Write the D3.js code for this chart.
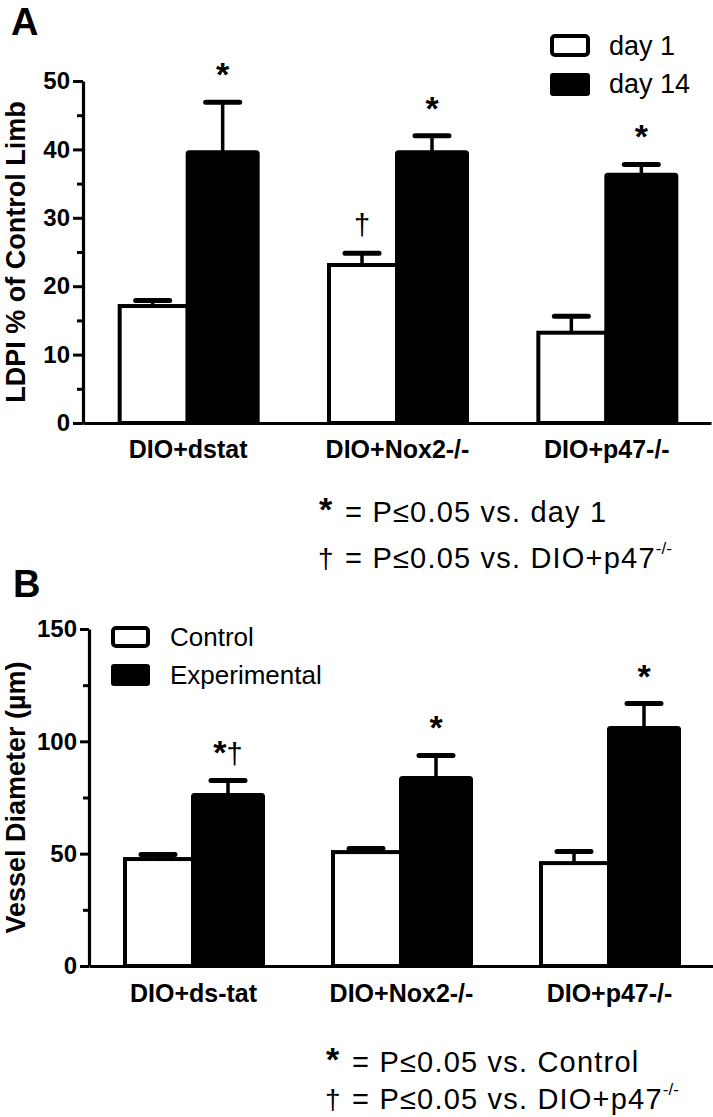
<!DOCTYPE html>
<html>
<head>
<meta charset="utf-8">
<script src="https://cdn.jsdelivr.net/npm/d3@7"></script>
<style>
  html, body { margin: 0; padding: 0; background: #fff; }
  svg { display: block; font-family: "Liberation Sans", Arial, Helvetica, sans-serif; }
</style>
</head>
<body>
<script>
// ---------------- DATA ----------------
// Panel A: LDPI % of Control Limb
const categoriesA = ["DIO+dstat", "DIO+Nox2-/-", "DIO+p47-/-"];
const seriesA = ["day 1", "day 14"];
const day1 = [17.1, 23.1, 13.2];
const day1Sem = [0.8, 1.7, 2.4];
const day14 = [39.6, 39.6, 36.3];
const day14Sem = [7.3, 2.4, 1.5];
const marksA = [["", "*"], ["†", "*"], ["", "*"]];
const ticksA = [0, 10, 20, 30, 40, 50];
const minorTicksA = [5, 15, 25, 35, 45];

// Panel B: Vessel Diameter (µm)
const categoriesB = ["DIO+ds-tat", "DIO+Nox2-/-", "DIO+p47-/-"];
const seriesB = ["Control", "Experimental"];
const control = [47.6, 50.7, 45.8];
const controlSem = [2.0, 1.6, 5.2];
const experimental = [76.1, 83.7, 105.9];
const experimentalSem = [6.5, 10.0, 10.9];
const marksB = [["", "*†"], ["", "*"], ["", "*"]];
const ticksB = [0, 50, 100, 150];
const minorTicksB = [25, 75, 125];

const footA = [["*", "= P≤0.05 vs. day 1", ""], ["†", "= P≤0.05 vs. DIO+p47", "-/-"]];
const footB = [["*", "= P≤0.05 vs. Control", ""], ["†", "= P≤0.05 vs. DIO+p47", "-/-"]];

// ---------------- DRAW ----------------
const W = 713, H = 1117;
const svg = d3.select("body").append("svg").attr("width", W).attr("height", H);

function drawPanel(o) {
  const g = svg.append("g");
  const y = d3.scaleLinear().domain(o.domain).range([o.y0, o.y1]);
  const x = d3.scalePoint().domain(o.categories).range([o.xAxis, o.xEnd]).padding(0.5);
  const sub = d3.scaleBand().domain(o.series).range([-70, 70]);

  // panel letter
  g.append("text").attr("x", o.letterX).attr("y", o.letterY)
    .attr("font-size", 38).attr("font-weight", "bold").text(o.letter);

  // y axis major
  const ya = g.append("g").attr("transform", `translate(${o.xAxis},0)`)
    .call(d3.axisLeft(y).tickValues(o.ticks).tickSize(o.tickLen).tickSizeOuter(0).tickPadding(3));
  ya.select(".domain").attr("stroke-width", 3.2);
  ya.selectAll(".tick line").attr("stroke-width", 3);
  ya.selectAll(".tick text").attr("font-size", 24).attr("font-weight", "bold")
    .attr("font-family", "Liberation Sans, Arial, sans-serif").attr("fill", "#000");
  // minor ticks
  const ym = g.append("g").attr("transform", `translate(${o.xAxis},0)`)
    .call(d3.axisLeft(y).tickValues(o.minor).tickSize(6).tickSizeOuter(0).tickFormat(""));
  ym.select(".domain").remove();
  ym.selectAll(".tick line").attr("stroke-width", 3);

  // y label
  g.append("text")
    .attr("transform", `translate(${o.ylabX},${(o.y0 + o.y1) / 2}) rotate(-90)`)
    .attr("text-anchor", "middle").attr("font-size", 27).attr("font-weight", "bold")
    .text(o.ylabel);

  // bars
  const vals = [o.v1, o.v2], sems = [o.s1, o.s2];
  o.categories.forEach((c, i) => {
    const gg = g.append("g").attr("transform", `translate(${x(c)},0)`);
    o.series.forEach((s, j) => {
      const v = vals[j][i], e = sems[j][i];
      const bx = sub(s), bw = sub.bandwidth();
      const cx = bx + bw / 2;
      gg.append("line").attr("x1", cx).attr("x2", cx)
        .attr("y1", y(v)).attr("y2", y(v + e))
        .attr("stroke", "#000").attr("stroke-width", 3.5);
      gg.append("line").attr("x1", cx - 17).attr("x2", cx + 17)
        .attr("y1", y(v + e)).attr("y2", y(v + e))
        .attr("stroke", "#000").attr("stroke-width", 5).attr("stroke-linecap", "round");
      if (j === 0) {
        gg.append("rect").attr("x", bx + 2).attr("width", bw - 2)
          .attr("y", y(v)).attr("height", y(0) - y(v))
          .attr("fill", "#fff").attr("stroke", "#000").attr("stroke-width", 4);
      } else {
        gg.append("rect").attr("x", bx).attr("width", bw)
          .attr("y", y(v)).attr("height", y(0) - y(v)).attr("rx", 1.5)
          .attr("fill", "#000").attr("stroke", "#000").attr("stroke-width", 4);
      }
      const m = o.marks[i][j];
      if (m) {
        const t = gg.append("text").attr("x", cx).attr("y", y(v + e) - 16)
          .attr("text-anchor", "middle");
        for (const ch of m) {
          if (ch === "*") t.append("tspan").attr("font-size", 34).attr("font-weight", "bold").text("*");
          else t.append("tspan").attr("font-size", 29).attr("dy", ch === m[0] ? -2 : 0).text(ch);
        }
      }
    });
  });

  // x axis
  const xa = g.append("g").attr("transform", `translate(0,${o.y0})`)
    .call(d3.axisBottom(x).tickSize(0).tickSizeOuter(0));
  xa.select(".domain").attr("stroke-width", 3.2);
  xa.selectAll(".tick text").attr("font-size", 25).attr("font-weight", "bold")
    .attr("font-family", "Liberation Sans, Arial, sans-serif").attr("fill", "#000")
    .attr("dy", null).attr("y", o.catY - o.y0);

  // legend
  o.series.forEach((s, j) => {
    const ly = o.legY[j];
    if (j === 0) {
      g.append("rect").attr("x", o.legX + 2).attr("y", ly + 2).attr("width", o.legW - 4)
        .attr("height", o.legH - 4).attr("rx", 3)
        .attr("fill", "#fff").attr("stroke", "#000").attr("stroke-width", 4);
    } else {
      g.append("rect").attr("x", o.legX).attr("y", ly).attr("width", o.legW)
        .attr("height", o.legH).attr("rx", 3).attr("fill", "#000");
    }
    g.append("text").attr("x", o.legTextX).attr("y", o.legBase[j])
      .attr("font-size", o.legFont).text(s);
  });

  // footnotes
  o.foot.forEach((f, k) => {
    const by = o.footY[k];
    if (f[0] === "*") {
      g.append("text").attr("x", o.footSymX - 1).attr("y", by - 1).attr("font-size", 34)
        .attr("font-weight", "bold").text("*");
    } else {
      g.append("text").attr("x", o.footSymX - 2).attr("y", by).attr("font-size", 28).text(f[0]);
    }
    const t = g.append("text").attr("x", o.footTextX).attr("y", by)
      .attr("font-size", 29).attr("letter-spacing", 1.2);
    t.append("tspan").text(f[1]);
    if (f[2]) t.append("tspan").attr("font-size", 17).attr("dy", -14)
      .attr("letter-spacing", 0).text(f[2]);
  });
}

drawPanel({
  letter: "A", letterX: 11, letterY: 35,
  categories: categoriesA, series: seriesA,
  v1: day1, s1: day1Sem, v2: day14, s2: day14Sem, marks: marksA,
  domain: [0, 50], y0: 423, y1: 81, xAxis: 83, xEnd: 711,
  ticks: ticksA, minor: minorTicksA, tickLen: 10,
  ylabel: "LDPI % of Control Limb", ylabX: 25,
  catY: 458,
  legX: 550, legY: [34, 73], legW: 40, legH: 23, legTextX: 609, legBase: [55, 93], legFont: 27,
  foot: footA, footSymX: 320, footTextX: 345, footY: [522, 568]
});

drawPanel({
  letter: "B", letterX: 13, letterY: 597,
  categories: categoriesB, series: seriesB,
  v1: control, s1: controlSem, v2: experimental, s2: experimentalSem, marks: marksB,
  domain: [0, 150], y0: 966, y1: 629, xAxis: 89, xEnd: 713,
  ticks: ticksB, minor: minorTicksB, tickLen: 9,
  ylabel: "Vessel Diameter (µm)", ylabX: 25,
  catY: 1002,
  legX: 111, legY: [626, 664], legW: 39, legH: 22, legTextX: 170, legBase: [646, 684], legFont: 26,
  foot: footB, footSymX: 327, footTextX: 352, footY: [1072, 1109]
});
</script>
</body>
</html>
